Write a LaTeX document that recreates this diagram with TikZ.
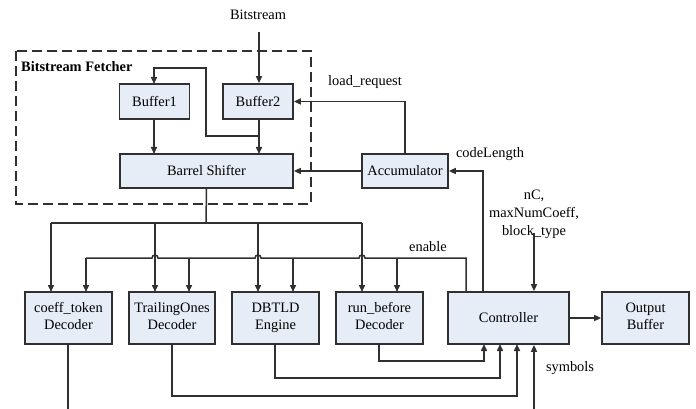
\documentclass[tikz,border=0pt]{standalone}
\usepackage{fontspec}
\setmainfont{Liberation Serif}
\newfontfamily\diagfont{Liberation Serif}
\usetikzlibrary{arrows.meta,calc}
\definecolor{boxfill}{HTML}{E6EDF7}
\definecolor{linegray}{HTML}{303030}
% two centred lines of equal height inside a block
\newcommand\twolines[2]{\strut#1\\\strut#2}
\tikzset{
  blk/.style={draw=linegray, line width=1.7pt, fill=boxfill, align=center,
    inner sep=0pt, font=\diagfont\fontsize{14.4}{17}\selectfont},
  wire/.style={draw=linegray, line width=1.5pt},
  arr/.style={wire, -{Triangle[length=7pt,width=6pt]}},
  lbl/.style={font=\diagfont\fontsize{14.4}{18}\selectfont, inner sep=0pt, align=center}
}
\begin{document}
\begin{tikzpicture}[x=1pt,y=-1pt]
\useasboundingbox (0,0) rectangle (696,409);

% fetcher group
\draw[linegray, line width=1.8pt, dash pattern=on 10pt off 5pt] (16,51) rectangle (311,204);
\node[lbl, anchor=west, font=\diagfont\fontsize{14.4}{17}\selectfont\bfseries] (fetch) at (21,67) {Bitstream Fetcher};

% blocks
\node[blk, minimum width=70, minimum height=35] (buf1) at (154.5,101.5) {Buffer1};
\node[blk, minimum width=70, minimum height=35] (buf2) at (258,101.5) {Buffer2};
\node[blk, minimum width=173, minimum height=34] (barrel) at (206.5,171) {Barrel Shifter};
\node[blk, minimum width=86, minimum height=34] (acc) at (405,171) {Accumulator};
\node[blk, minimum width=87, minimum height=52] (coeff) at (68.5,318) {\twolines{coeff\_token}{Decoder}};
\node[blk, minimum width=86, minimum height=52] (trail) at (172,318) {\twolines{TrailingOnes}{Decoder}};
\node[blk, minimum width=87, minimum height=52] (dbtld) at (275.5,318) {\twolines{DBTLD}{Engine}};
\node[blk, minimum width=87, minimum height=52] (runb) at (379.5,318) {\twolines{run\_before}{Decoder}};
\node[blk, minimum width=121, minimum height=52] (ctrl) at (508.5,318) {Controller};
\node[blk, minimum width=87, minimum height=52] (outb) at (645.5,318) {\twolines{Output}{Buffer}};

% labels
\node[lbl] (lbs) at (258,15) {Bitstream};
\node[lbl] (llr) at (365,82) {load\_request};
\node[lbl] (lcl) at (490,154) {codeLength};
\node[lbl] (lnc) at (534,214) {\strut nC,\\\strut maxNumCoeff,\\\strut block\_type};
\node[lbl] (len) at (428,247) {enable};
\node[lbl] (lsy) at (570,368) {symbols};

% free ends
\coordinate (bsin) at (259,32);
\coordinate (ncin) at (534,233);
\coordinate (syin) at (534,409);
\coordinate (ctout) at (68,409);

% bitstream fetcher wiring
\draw[arr] (bsin) -- (bsin |- buf2.north);
\draw[arr] (154,119) -- (154,154);
\draw[arr] (259,119) -- (259,154);
\draw[arr] (259,136) -- (206,136) -- (206,68) -- (154,68) -- (154,84);
\draw[arr] (acc.north) -- (acc.north |- buf2.east) -- (buf2.east);
\draw[arr] (acc.west) -- (barrel.east);
\draw[arr] (483,292) -- (483,171) -- (acc.east);

% data bus from the barrel shifter
\draw[wire] (barrel.south) -- (206,223);
\draw[wire] (51,223) -- (362,223);
\foreach \x in {51,155,258,362} \draw[arr] (\x,223) -- (\x,292);

% enable bus from the controller, hopping over the data lines
\draw[wire] (466,292) -- (466,258) -- (365,258)
  arc[start angle=0, end angle=180, radius=3pt] -- (261,258)
  arc[start angle=0, end angle=180, radius=3pt] -- (158,258)
  arc[start angle=0, end angle=180, radius=3pt] -- (86,258);
\foreach \x in {86,189,293,397} \draw[arr] (\x,258) -- (\x,292);

% controller inputs and output
\draw[arr] (ncin) -- (ncin |- ctrl.north);
\draw[arr] (ctrl.east) -- (outb.west);
\draw[arr] (syin) -- (syin |- ctrl.south);

% decoder results back to the controller
\draw[wire] (coeff.south -| ctout) -- (ctout);
\draw[arr] (172,344) -- (172,396) -- (517,396) -- (517,344);
\draw[arr] (275,344) -- (275,378) -- (500,378) -- (500,344);
\draw[arr] (379,344) -- (379,361) -- (484,361) -- (484,344);
\end{tikzpicture}
\end{document}
